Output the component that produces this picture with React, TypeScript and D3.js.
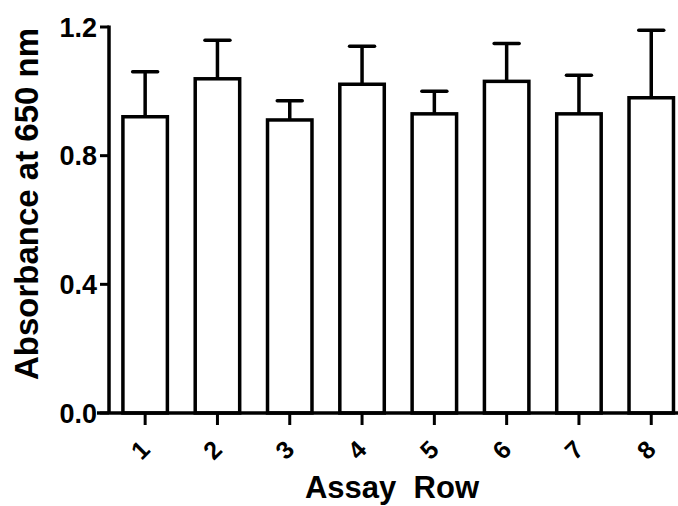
import React from 'react';
import * as d3 from 'd3';

// values
const rows = ['1', '2', '3', '4', '5', '6', '7', '8'];
const means = [0.921, 1.039, 0.911, 1.022, 0.93, 1.031, 0.93, 0.98];
const errors = [0.14, 0.12, 0.06, 0.118, 0.07, 0.118, 0.12, 0.21];
const yTicks = [0.0, 0.4, 0.8, 1.2];

const W = 678;
const H = 506;
const FONT = '"Liberation Sans", Arial, Helvetica, sans-serif';
const SW = 3.5;

export default function App() {
  const axisX = 109;
  const axisY = 413;

  const x = d3.scaleBand<string>()
    .domain(rows)
    .range([axisX, axisX + 8 * 72.3])
    .paddingInner(0.385)
    .paddingOuter(0.1925);

  const y = d3.scaleLinear().domain([0, 1.2]).range([axisY, 27]);

  const bw = x.bandwidth();
  const capW = 25;

  return (
    <svg
      width={W}
      height={H}
      style={{ position: 'absolute', left: 0, top: 0, background: '#fff' }}
      fontFamily={FONT}
      fontWeight="bold"
    >
      {/* bars */}
      {rows.map((r, i) => {
        const x0 = x(r) as number;
        const cx = x0 + bw / 2;
        const top = y(means[i]);
        const errTop = y(means[i] + errors[i]);
        return (
          <g key={r}>
            <line x1={cx} x2={cx} y1={top} y2={errTop} stroke="#000" strokeWidth={SW} />
            <line
              x1={cx - capW / 2}
              x2={cx + capW / 2}
              y1={errTop}
              y2={errTop}
              stroke="#000"
              strokeWidth={SW}
              strokeLinecap="round"
            />
            <rect
              x={x0}
              y={top}
              width={bw}
              height={axisY - top}
              fill="#fff"
              stroke="#000"
              strokeWidth={SW}
            />
          </g>
        );
      })}

      {/* y axis */}
      <line x1={axisX} x2={axisX} y1={y(1.2) - 1.5} y2={axisY} stroke="#000" strokeWidth={SW} />
      {yTicks.map((t) => (
        <g key={t}>
          <line x1={axisX - 9} x2={axisX} y1={y(t)} y2={y(t)} stroke="#000" strokeWidth={SW - 0.5} />
          <text x={97} y={y(t)} dy="0.36em" textAnchor="end" fontSize={27}>
            {d3.format('.1f')(t)}
          </text>
        </g>
      ))}
      <text
        transform={`translate(38, 204) rotate(-90)`}
        textAnchor="middle"
        fontSize={33}
      >
        Absorbance at 650 nm
      </text>

      {/* x axis */}
      <line x1={97} x2={W} y1={axisY} y2={axisY} stroke="#000" strokeWidth={SW} />
      {rows.map((r) => {
        const cx = (x(r) as number) + bw / 2;
        return (
          <g key={r}>
            <line x1={cx} x2={cx} y1={axisY} y2={axisY + 12} stroke="#000" strokeWidth={SW - 0.5} />
            <text
              transform={`translate(${cx - 5}, ${axisY + 37}) rotate(-45)`}
              textAnchor="middle"
              dy="0.35em"
              fontSize={25}
            >
              {r}
            </text>
          </g>
        );
      })}
      <text x={392} y={498} textAnchor="middle" fontSize={31} style={{ whiteSpace: 'pre' }}>
        {'Assay  Row'}
      </text>
    </svg>
  );
}
